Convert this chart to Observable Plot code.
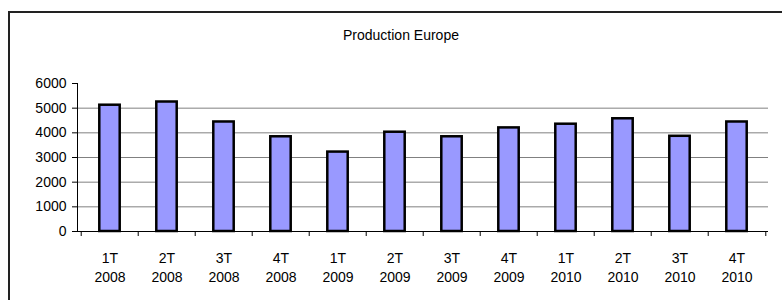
<!DOCTYPE html>
<html>
<head>
<meta charset="utf-8">
<script src="https://cdn.jsdelivr.net/npm/d3@7"></script>
<script src="https://cdn.jsdelivr.net/npm/@observablehq/plot@0.6"></script>
<style>
  html, body { margin: 0; padding: 0; background: #fff; overflow: hidden; }
  #wrap { position: relative; width: 782px; height: 300px; }
  #frame { position: absolute; left: 8px; top: 11px; width: 800px; height: 320px;
           border-top: 2px solid #222; border-left: 2px solid #222; pointer-events: none; }
</style>
</head>
<body>
<div id="wrap"><div id="frame"></div></div>
<script>
const title = "Production Europe";
const quarters = ["1T","2T","3T","4T","1T","2T","3T","4T","1T","2T","3T","4T"];
const years = ["2008","2008","2008","2008","2009","2009","2009","2009","2010","2010","2010","2010"];
const values = [5120, 5250, 4440, 3840, 3220, 4025, 3840, 4200, 4350, 4570, 3860, 4440];
const yTicks = [0, 1000, 2000, 3000, 4000, 5000, 6000];
const gridTicks = [1000, 2000, 3000, 4000, 5000];

const data = quarters.map((q, i) => ({key: i, label: q + "\n" + years[i], value: values[i]}));
const keys = data.map(d => d.key);
const labelOf = new Map(data.map(d => [d.key, d.label]));

const W = 782, H = 300, mL = 77, mR = 14, mT = 83, mB = 69;
const step = (W - mL - mR) / keys.length;
const barW = 21;
const inset = (step - barW) / 2;

const chart = Plot.plot({
  width: W, height: H,
  marginLeft: mL, marginRight: mR, marginTop: mT, marginBottom: mB,
  style: {fontFamily: "'Liberation Sans', Arial, sans-serif", fontSize: "14px", color: "#000", background: "transparent"},
  x: {type: "band", domain: keys, padding: 0, axis: null, label: null},
  y: {domain: [0, 6000], axis: null, label: null},
  marks: [
    Plot.gridY(gridTicks, {stroke: "#808080", strokeOpacity: 1, strokeWidth: 1}),
    Plot.barY(data, {x: "key", y: "value", fill: "#9999ff", stroke: "#000", strokeWidth: 2.5, insetLeft: inset, insetRight: inset}),
    Plot.ruleY([0], {stroke: "#000", strokeWidth: 1}),
    Plot.frame({anchor: "left", stroke: "#000", strokeWidth: 1}),
    Plot.axisY({ticks: yTicks, tickSize: 5, tickPadding: 6, tickFormat: d => String(d), stroke: "#000", fill: "#000", label: null}),
    Plot.axisX({tickSize: 0, tickPadding: 17, tickFormat: k => labelOf.get(k), lineHeight: 1.42, fill: "#000", label: null}),
    Plot.axisX({tickSize: 5, tickFormat: () => "", dx: -step / 2, stroke: "#000", label: null}),
    Plot.axisX({ticks: [keys[keys.length - 1]], tickSize: 5, tickFormat: () => "", dx: step / 2, stroke: "#000", label: null}),
    Plot.text([title], {frameAnchor: "top", dx: -22, dy: -53, fill: "#000", fontSize: 14})
  ]
});
document.getElementById("wrap").insertBefore(chart, document.getElementById("frame"));
</script>
</body>
</html>
